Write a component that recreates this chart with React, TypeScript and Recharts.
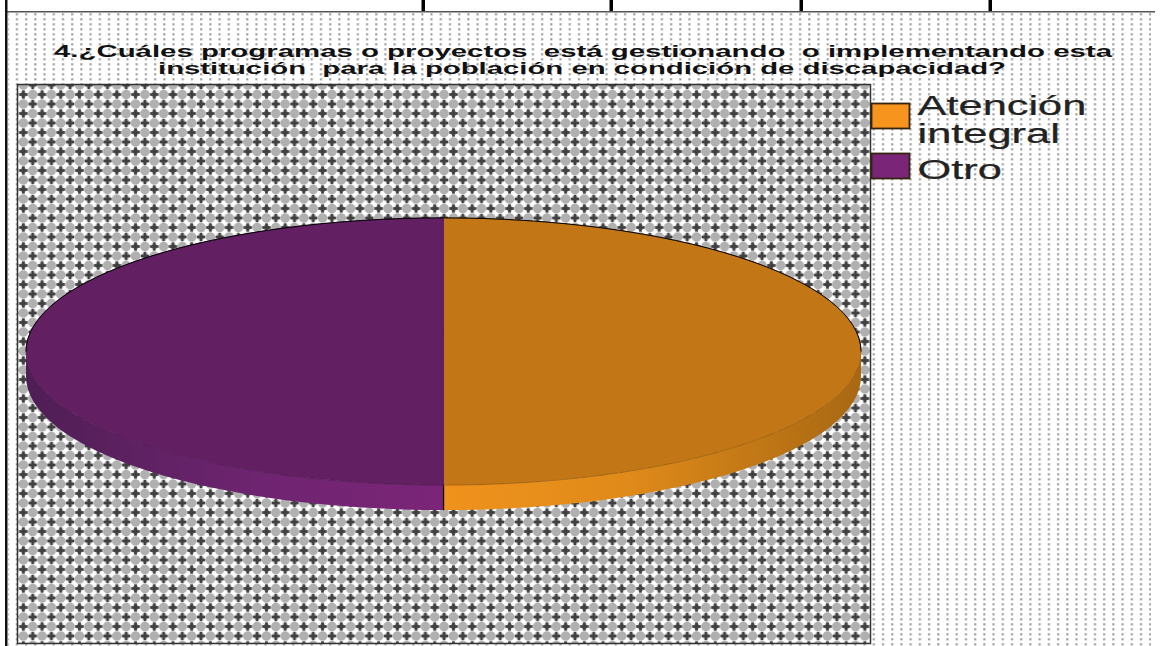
import React from "react";
import { PieChart, Pie, Legend } from "recharts";

const categories = ["Atención integral", "Otro"];
const shares = [50, 50];
const legendColors = ["#F7941D", "#7B2578"];
const faceColors = ["#C27616", "#622062"];
const wallGradients = ["url(#wallOrange)", "url(#wallPurple)"];
const titleLines = [
  "4.¿Cuáles programas o proyectos  está gestionando  o implementando esta",
  "institución  para la población en condición de discapacidad?",
];
const frameTicks = [423, 611, 801, 990];

const rows = categories.map((name, i) => ({
  name,
  value: shares[i],
  fill: legendColors[i],
  face: faceColors[i],
  wall: wallGradients[i],
}));

const TILT = 0.32;
const DEPTH = 25;
const rad = (a: number) => (a * Math.PI) / 180;

function FaceShape(p: any) {
  const rx = p.outerRadius;
  const ry = rx * TILT;
  const pt = (a: number) => [p.cx + rx * Math.cos(rad(a)), p.cy - ry * Math.sin(rad(a))];
  const [sx, sy] = pt(p.startAngle);
  const [ex, ey] = pt(p.endAngle);
  const large = Math.abs(p.startAngle - p.endAngle) > 180 ? 1 : 0;
  const side = Math.cos(rad((p.startAngle + p.endAngle) / 2)) >= 0 ? 0 : 180;
  const [hx, hy] = pt(side);
  const rightHalf = side === 0;
  const topArc = rightHalf
    ? `M${sx},${sy}A${rx},${ry} 0 0 1 ${hx},${hy}`
    : `M${hx},${hy}A${rx},${ry} 0 0 1 ${ex},${ey}`;
  return (
    <g>
      <path
        d={`M${p.cx},${p.cy}L${sx},${sy}A${rx},${ry} 0 ${large} 1 ${ex},${ey}Z`}
        fill={p.face}
        stroke={rightHalf ? "#A0620F" : "#541B55"}
        strokeWidth={0.8}
      />
      <path d={topArc} fill="none" stroke="#000" strokeWidth={1} />
    </g>
  );
}

function WallShape(p: any) {
  const rx = p.outerRadius;
  const ry = rx * TILT;
  const top = p.cy - DEPTH;
  const rightHalf = Math.cos(rad((p.startAngle + p.endAngle) / 2)) >= 0;
  const start = rightHalf ? 270 : 180;
  const end = rightHalf ? 360 : 270;
  const pt = (a: number, y0: number) => [p.cx + rx * Math.cos(rad(a)), y0 - ry * Math.sin(rad(a))];
  const [x0, y0] = pt(start, top);
  const [x1, y1] = pt(end, top);
  const [x2, y2] = pt(end, p.cy);
  const [x3, y3] = pt(start, p.cy);
  const [bx, by0] = pt(270, top);
  const [, by1] = pt(270, p.cy);
  return (
    <g>
      <path
        d={`M${x0},${y0}A${rx},${ry} 0 0 0 ${x1},${y1}L${x2},${y2}A${rx},${ry} 0 0 1 ${x3},${y3}Z`}
        fill={p.wall}
        stroke="none"
      />
      <line x1={bx} y1={by0} x2={bx} y2={by1} stroke="#000" strokeWidth={1.2} />
    </g>
  );
}

function LegendBody({ payload }: any) {
  const seen = new Set<string>();
  const items = (payload || []).filter((e: any) => {
    if (seen.has(e.value)) return false;
    seen.add(e.value);
    return true;
  });
  return (
    <svg width={290} height={100} style={{ display: "block" }}>
      {items.map((e: any, idx: number) => {
        const lines = String(e.value).split(" ");
        const y0 = 13 + idx * 50;
        const center = y0 + 12.5;
        return (
          <g key={e.value}>
            <rect x={1.5} y={y0 + 0.5} width={38} height={25} fill={e.color} stroke="#33240f" strokeWidth={1.8} />
            {lines.map((l, i) => (
              <text
                key={l}
                transform={`translate(47.5,${center + 13.5 + (i - (lines.length - 1) / 2) * 28}) scale(1.55,1)`}
                fontFamily="Liberation Sans"
                fontSize={28}
                fill="#222"
                stroke="#222"
                strokeWidth={0.25}
              >
                {l}
              </text>
            ))}
          </g>
        );
      })}
    </svg>
  );
}

export default function App() {
  const W = 18.7;
  const H = 19;
  const crossAt = [
    [W / 2, H / 2],
    [0, 0],
    [W, 0],
    [0, H],
    [W, H],
  ];
  const ringAt = [
    [W / 2, 0],
    [0, H / 2],
    [W, H / 2],
    [W / 2, H],
  ];
  return (
    <div style={{ position: "fixed", left: 0, top: 0, width: 1171, height: 646, background: "#fff", overflow: "hidden" }}>
      <PieChart width={1171} height={646} margin={{ top: 0, right: 0, bottom: 0, left: 0 }}>
        <defs>
          <pattern id="dots" x={15.7} y={13} width={9.214} height={5} patternUnits="userSpaceOnUse">
            <rect x={0} y={0} width={2.4} height={2.6} fill="#c4c4c4" />
            <rect x={0.6} y={0.7} width={1.2} height={1.2} fill="#8c8c8c" />
          </pattern>
          <pattern id="weave" x={14} y={85} width={W} height={H} patternUnits="userSpaceOnUse">
            <rect width={W} height={H} fill="#b0b0b0" />
            {ringAt.map(([x, y], i) => (
              <circle key={i} cx={x} cy={y} r={6} fill="none" stroke="#ffffff" strokeWidth={2.4} />
            ))}
            <g fill="#404040">
              {crossAt.map(([x, y], i) => (
                <g key={i}>
                  <rect x={x - 1.4} y={y - 4.2} width={2.8} height={8.4} />
                  <rect x={x - 4.2} y={y - 1.4} width={8.4} height={2.8} />
                </g>
              ))}
            </g>
          </pattern>
          <linearGradient id="wallOrange" gradientUnits="userSpaceOnUse" x1={443} y1={0} x2={861} y2={0}>
            <stop offset="0%" stopColor="#F0921C" />
            <stop offset="45%" stopColor="#DF8A1A" />
            <stop offset="100%" stopColor="#A86812" />
          </linearGradient>
          <linearGradient id="wallPurple" gradientUnits="userSpaceOnUse" x1={26} y1={0} x2={443} y2={0}>
            <stop offset="0%" stopColor="#4F1E55" />
            <stop offset="55%" stopColor="#6E2470" />
            <stop offset="100%" stopColor="#7B2578" />
          </linearGradient>
        </defs>

        <rect x={8} y={13} width={1143} height={633} fill="url(#dots)" />
        <rect x={17.5} y={84.5} width={853} height={559} fill="url(#weave)" stroke="#333" strokeWidth={1.5} />

        <rect x={5} y={11} width={1150} height={1.5} fill="#555" />
        <rect x={5} y={0} width={2.5} height={646} fill="#111" />
        {frameTicks.map((x) => (
          <rect key={x} x={x - 1.5} y={0} width={3.5} height={11} fill="#000" />
        ))}

        {titleLines.map((t, i) => (
          <text
            key={t}
            x={i === 0 ? 54 : 158}
            y={56.5 + i * 17}
            textLength={i === 0 ? 1058 : 848}
            lengthAdjust="spacingAndGlyphs"
            fontFamily="Liberation Sans"
            fontWeight={700}
            fontSize={17}
            fill="#111"
            style={{ whiteSpace: "pre" }}
          >
            {t}
          </text>
        ))}

        <Pie
          data={rows}
          dataKey="value"
          nameKey="name"
          cx={443.5}
          cy={376.5}
          outerRadius={417.5}
          startAngle={90}
          endAngle={-270}
          stroke="none"
          legendType="none"
          isAnimationActive={false}
          shape={WallShape}
        />
        <Pie
          data={rows}
          dataKey="value"
          nameKey="name"
          cx={443.5}
          cy={351.5}
          outerRadius={417.5}
          startAngle={90}
          endAngle={-270}
          stroke="none"
          isAnimationActive={false}
          shape={FaceShape}
        />
        <Legend
          layout="horizontal"
          verticalAlign="middle"
          align="center"
          content={<LegendBody />}
          wrapperStyle={{ position: "absolute", left: 870, top: 90, width: 290, height: 100 }}
        />
      </PieChart>
    </div>
  );
}
